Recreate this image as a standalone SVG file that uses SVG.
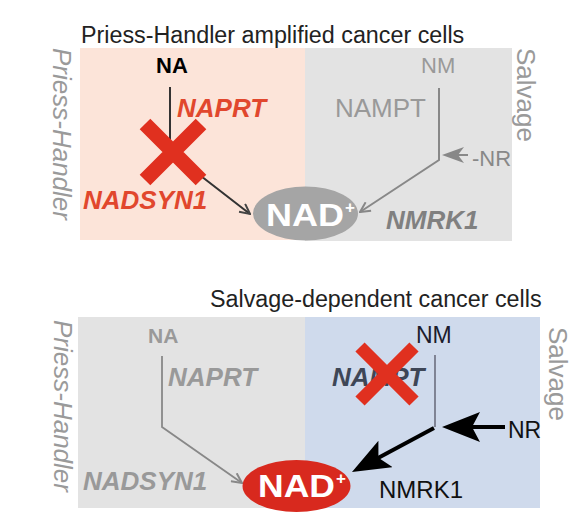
<svg xmlns="http://www.w3.org/2000/svg" width="578" height="517" viewBox="0 0 578 517">
<defs>
<style>
text{font-family:"Liberation Sans",Arial,sans-serif;}
.title{font-size:23.3px;fill:#222;}
.side{font-size:26px;fill:#9a9a9a;}
.gene{font-size:26px;font-weight:bold;font-style:italic;}
.red{fill:#e1472d;}
.lg{fill:#999;}
.nad{font-size:31px;font-weight:bold;fill:#fff;}
.sup{font-size:17px;font-weight:bold;fill:#fff;}
.cross{stroke:#e0301f;fill:none;}
</style>
<marker id="openDark" viewBox="0 0 12 12" refX="11" refY="6" markerWidth="12" markerHeight="12" markerUnits="userSpaceOnUse" orient="auto"><path d="M1,1 L11,6 L1,11" fill="none" stroke="#444" stroke-width="2"/></marker>
<marker id="openGray" viewBox="0 0 12 12" refX="11" refY="6" markerWidth="12" markerHeight="12" markerUnits="userSpaceOnUse" orient="auto"><path d="M1,1 L11,6 L1,11" fill="none" stroke="#888" stroke-width="2"/></marker>
<marker id="barbGray" viewBox="0 0 22 16" refX="18" refY="8" markerWidth="22" markerHeight="16" markerUnits="userSpaceOnUse" orient="auto"><path d="M0,0 L22,8 L0,16 L6,8 Z" fill="#888"/></marker>
<marker id="barbBlack" viewBox="0 0 38 30" refX="28" refY="15" markerWidth="38" markerHeight="30" markerUnits="userSpaceOnUse" orient="auto"><path d="M0,0 L38,15 L0,30 L8,15 Z" fill="#000"/></marker>
</defs>

<!-- top panel -->
<g id="top-panel">
<rect x="80" y="48" width="225" height="192" fill="#fce4d9"/>
<rect x="305" y="48" width="207" height="193" fill="#e3e3e3"/>
<text class="title" x="81" y="43">Priess-Handler amplified cancer cells</text>
<text class="side" font-style="italic" transform="translate(53,48) rotate(90)">Priess-Handler</text>
<text class="side" transform="translate(517,48) rotate(90)">Salvage</text>
</g>

<!-- bottom panel -->
<g id="bottom-panel">
<rect x="78" y="317" width="227" height="191" fill="#e3e3e3"/>
<rect x="305" y="317" width="235" height="191" fill="#cfdaec"/>
<text class="title" x="210" y="307">Salvage-dependent cancer cells</text>
<text class="side" font-style="italic" transform="translate(54,320) rotate(90)">Priess-Handler</text>
<text class="side" transform="translate(549,327) rotate(90)">Salvage</text>
</g>

<!-- connectors -->
<g id="connectors" fill="none">
<polyline points="170,87 170,152 250,214" stroke="#333" stroke-width="2" marker-end="url(#openDark)"/>
<polyline points="439,88 439,160 360,212" stroke="#888" stroke-width="2" marker-end="url(#openGray)"/>
<path d="M468,155 L446,155" stroke="#888" stroke-width="2" marker-end="url(#barbGray)"/>
<polyline points="162,356 162,427 242,483" stroke="#888" stroke-width="1.8" marker-end="url(#openGray)"/>
<path d="M435,355 L435,427" stroke="#556" stroke-width="1.3"/>
<path d="M505,427 L452,427" stroke="#000" stroke-width="4" marker-end="url(#barbBlack)"/>
<path d="M434,428 L360.8,467.2" stroke="#000" stroke-width="4" marker-end="url(#barbBlack)"/>
</g>

<!-- top nodes -->
<g id="top-NA"><text x="156" y="73" font-size="22" font-weight="bold" fill="#000">NA</text></g>
<g id="top-NAPRT"><text class="gene red" x="177" y="117" font-size="25">NAPRT</text></g>
<g id="top-NADSYN1"><text class="gene red" x="83" y="209">NADSYN1</text></g>
<g id="top-X"><path class="cross" d="M145,124 L201,180 M201,124 L145,180" stroke-width="15"/></g>
<g id="top-NAD">
<ellipse cx="305.5" cy="213.5" rx="52.5" ry="27" fill="#a5a5a5"/>
<text class="nad" x="266" y="226" textLength="78" lengthAdjust="spacingAndGlyphs">NAD</text>
<text class="sup" x="345" y="213">+</text>
</g>
<g id="top-NM"><text x="421" y="73" font-size="22" fill="#999">NM</text></g>
<g id="top-NAMPT"><text x="335" y="117" font-size="26" fill="#999">NAMPT</text></g>
<g id="top-NR"><text x="472" y="166" font-size="22" fill="#888">-NR</text></g>
<g id="top-NMRK1"><text class="gene" x="386" y="229" fill="#808080">NMRK1</text></g>

<!-- bottom nodes -->
<g id="bot-NA"><text x="148" y="343" font-size="21" font-weight="bold" fill="#999">NA</text></g>
<g id="bot-NAPRT"><text class="gene lg" x="168" y="386">NAPRT</text></g>
<g id="bot-NADSYN1"><text class="gene lg" x="83" y="490">NADSYN1</text></g>
<g id="bot-NM"><text x="416" y="343" font-size="23" fill="#1c1c2c">NM</text></g>
<g id="bot-NAMPT"><text class="gene" x="332" y="386" fill="#3e4656">NAMPT</text></g>
<g id="bot-X"><path class="cross" d="M360,347 L414,401 M414,347 L360,401" stroke-width="13"/></g>
<g id="bot-NAD">
<ellipse cx="296.5" cy="486" rx="54" ry="26" fill="#d8291e"/>
<text class="nad" x="258" y="497" textLength="77" lengthAdjust="spacingAndGlyphs">NAD</text>
<text class="sup" x="336" y="484">+</text>
</g>
<g id="bot-NR"><text x="508" y="438" font-size="23" fill="#111">NR</text></g>
<g id="bot-NMRK1"><text x="379" y="498" font-size="24" fill="#111">NMRK1</text></g>
</svg>
